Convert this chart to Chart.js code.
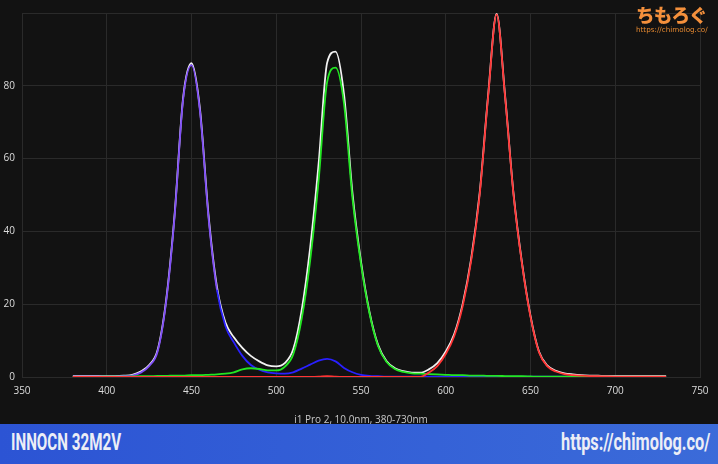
<!DOCTYPE html>
<html>
<head>
<meta charset="utf-8">
<script src="https://cdn.jsdelivr.net/npm/chart.js@4/dist/chart.umd.min.js"></script>
<style>
  html, body { margin: 0; padding: 0; background: #121212; }
  #page { position: relative; width: 718px; height: 464px; overflow: hidden; background: #121212; }
  #wrap { position: absolute; left: 0; top: 0; width: 718px; height: 427px; }
  #banner {
    position: absolute; left: 0; top: 424px; width: 718px; height: 40px;
    background: linear-gradient(90deg, #2c54d4, #3b6bd9);
  }
  #banner span {
    position: absolute; top: 5px; color: #eceef6; white-space: nowrap;
    font-family: "Roboto", "Liberation Sans", sans-serif;
    font-weight: bold; font-size: 23px;
  }
  #banner .name { left: 11px; transform: scaleX(0.66); transform-origin: left center; }
  #banner .url { right: 8px; transform: scaleX(0.71); transform-origin: right center; }
  #logo { position: absolute; left: 636px; top: 3px; width: 82px; }
  #logo .jp {
    font-family: "Noto Sans CJK JP", sans-serif; font-weight: 900; font-size: 18.5px;
    color: #f4903c; line-height: 23px; letter-spacing: -0.8px;
  }
  #logo .small {
    font-family: "DejaVu Sans", sans-serif; font-size: 7.2px; color: #e88a30; line-height: 8px;
  }
</style>
</head>
<body>
<div id="page">
  <div id="wrap"><canvas id="spectrum"></canvas></div>
  <div id="banner"><span class="name">INNOCN 32M2V</span><span class="url">https://chimolog.co/</span></div>
  <div id="logo"><div class="jp">ちもろぐ</div><div class="small">https://chimolog.co/</div></div>
</div>
<script>
// wavelength (nm) and spectral values
const wavelengths = [380,385,390,395,400,405,410,415,420,425,430,435,440,445,450,455,460,465,470,475,
  480,485,490,495,500,505,510,515,520,525,530,535,540,545,550,555,560,565,570,575,
  580,585,590,595,600,605,610,615,620,625,630,635,640,645,650,655,660,665,670,675,
  680,685,690,695,700,705,710,715,720,725,730];

const whiteVals = [0.2,0.2,0.2,0.2,0.25,0.25,0.35,0.6,1.5,3.3,7.4,21,44.5,76.5,86.2,73.6,44.7,24.8,15.0,10.9,
  8.0,5.8,4.3,3.2,2.9,3.8,7.6,18.4,35.5,58.6,86.3,89.4,77.6,50.4,31.7,17.9,8.9,4.4,2.4,1.6,
  1.2,1.2,2.1,3.8,7.0,11.8,20.1,32.5,50.5,77.4,99.8,77.3,50.3,31.3,16.8,7.0,3.1,1.7,1.0,0.7,
  0.5,0.4,0.35,0.3,0.3,0.3,0.3,0.3,0.3,0.3,0.3];

const redVals = [0.05,0.05,0.05,0.05,0.05,0.05,0.05,0.05,0.05,0.05,0.05,0.05,0.05,0.05,0.05,0.05,0.05,0.05,0.05,0.05,
  0.05,0.05,0.05,0.05,0.05,0.05,0.05,0.05,0.05,0.1,0.25,0.1,0.05,0.05,0.05,0.05,0.05,0.05,0.05,0.05,
  0.05,0.05,1.2,3.0,6.3,11.2,19.5,32,50,77,99.6,77,50,31,16.5,6.8,2.9,1.5,0.8,0.5,
  0.35,0.25,0.2,0.15,0.12,0.1,0.1,0.1,0.1,0.1,0.1];

const greenVals = [0.05,0.05,0.05,0.05,0.1,0.1,0.1,0.15,0.2,0.2,0.3,0.3,0.4,0.4,0.5,0.5,0.6,0.7,0.9,1.3,
  2.1,2.4,2.2,1.8,1.8,2.8,6.2,16,32,54,81,85,75,49,31,17.5,8.6,4.2,2.2,1.4,
  1.0,0.9,0.8,0.7,0.6,0.5,0.5,0.4,0.4,0.3,0.3,0.25,0.2,0.2,0.15,0.1,0.1,0.1,0.1,0.1,
  0.1,0.1,0.1,0.1,0.1,0.1,0.1,0.1,0.1,0.1,0.1];

const blueVals = [0.1,0.1,0.1,0.1,0.1,0.1,0.2,0.4,1.2,3.0,7.0,20.5,44,76,85.7,73,44,24,14,9.5,
  5.8,3.3,2.0,1.3,1.0,0.9,1.3,2.3,3.4,4.5,5.0,4.3,2.5,1.3,0.6,0.3,0.2,0.1,0.1,0.1,
  0.1,0.1,0.1,0.1,0.1,0.1,0.1,0.1,0.1,0.1,0.1,0.1,0.1,0.1,0.1,0.1,0.1,0.1,0.1,0.1,
  0.1,0.1,0.1,0.1,0.1,0.1,0.1,0.1,0.1,0.1,0.1];

const xTicks = [350, 400, 450, 500, 550, 600, 650, 700, 750];
const yTicks = [0, 20, 40, 60, 80];

function toPoints(vals) {
  return vals.map((v, i) => ({ x: wavelengths[i], y: v }));
}

// blue where it runs apart from the white curve, violet where both overlap
function blueSegment(ctx) {
  const a = ctx.p0DataIndex, b = ctx.p1DataIndex;
  const close = Math.abs(whiteVals[a] - blueVals[a]) < 0.9 && Math.abs(whiteVals[b] - blueVals[b]) < 0.9;
  return close ? '#7e4cf6' : '#2a20ff';
}

const lineBase = { borderWidth: 1.8, pointRadius: 0, fill: false, cubicInterpolationMode: 'monotone' };

new Chart(document.getElementById('spectrum').getContext('2d'), {
  type: 'line',
  data: {
    datasets: [
      Object.assign({ label: 'Red', data: toPoints(redVals), borderColor: '#ff3434' }, lineBase),
      Object.assign({ label: 'Green', data: toPoints(greenVals), borderColor: '#22e622' }, lineBase),
      Object.assign({ label: 'Blue', data: toPoints(blueVals), borderColor: '#2a20ff',
        segment: { borderColor: blueSegment } }, lineBase),
      Object.assign({ label: 'White', data: toPoints(whiteVals), borderColor: '#f2f2f2' }, lineBase),
    ]
  },
  options: {
    responsive: true,
    maintainAspectRatio: false,
    animation: false,
    layout: { padding: { top: 12, right: 18, left: 0, bottom: 0 } },
    plugins: { legend: { display: false }, tooltip: { enabled: false } },
    scales: {
      x: {
        type: 'linear', min: 350, max: 750,
        afterBuildTicks: s => { s.ticks = xTicks.map(v => ({ value: v })); },
        afterFit: s => { s.height = 50; },
        grid: { color: '#2a2a2a', drawTicks: false },
        border: { color: '#2a2a2a' },
        ticks: { color: '#dcdcdc', padding: 8, font: { family: 'Open Sans', size: 10 } },
        title: { display: true, text: 'i1 Pro 2, 10.0nm, 380-730nm', color: '#c8c8c8',
          font: { family: 'Open Sans', size: 10 }, padding: { top: 0, bottom: 1 } }
      },
      y: {
        min: 0, max: 100,
        afterBuildTicks: s => { s.ticks = yTicks.concat([100]).map(v => ({ value: v })); },
        afterFit: s => { s.width = 22; },
        grid: { color: '#2a2a2a', drawTicks: false },
        border: { color: '#2a2a2a' },
        ticks: { color: '#dcdcdc', padding: 7, font: { family: 'Open Sans', size: 10 },
          callback: v => (v === 100 ? '' : v) }
      }
    }
  }
});
</script>
</body>
</html>
